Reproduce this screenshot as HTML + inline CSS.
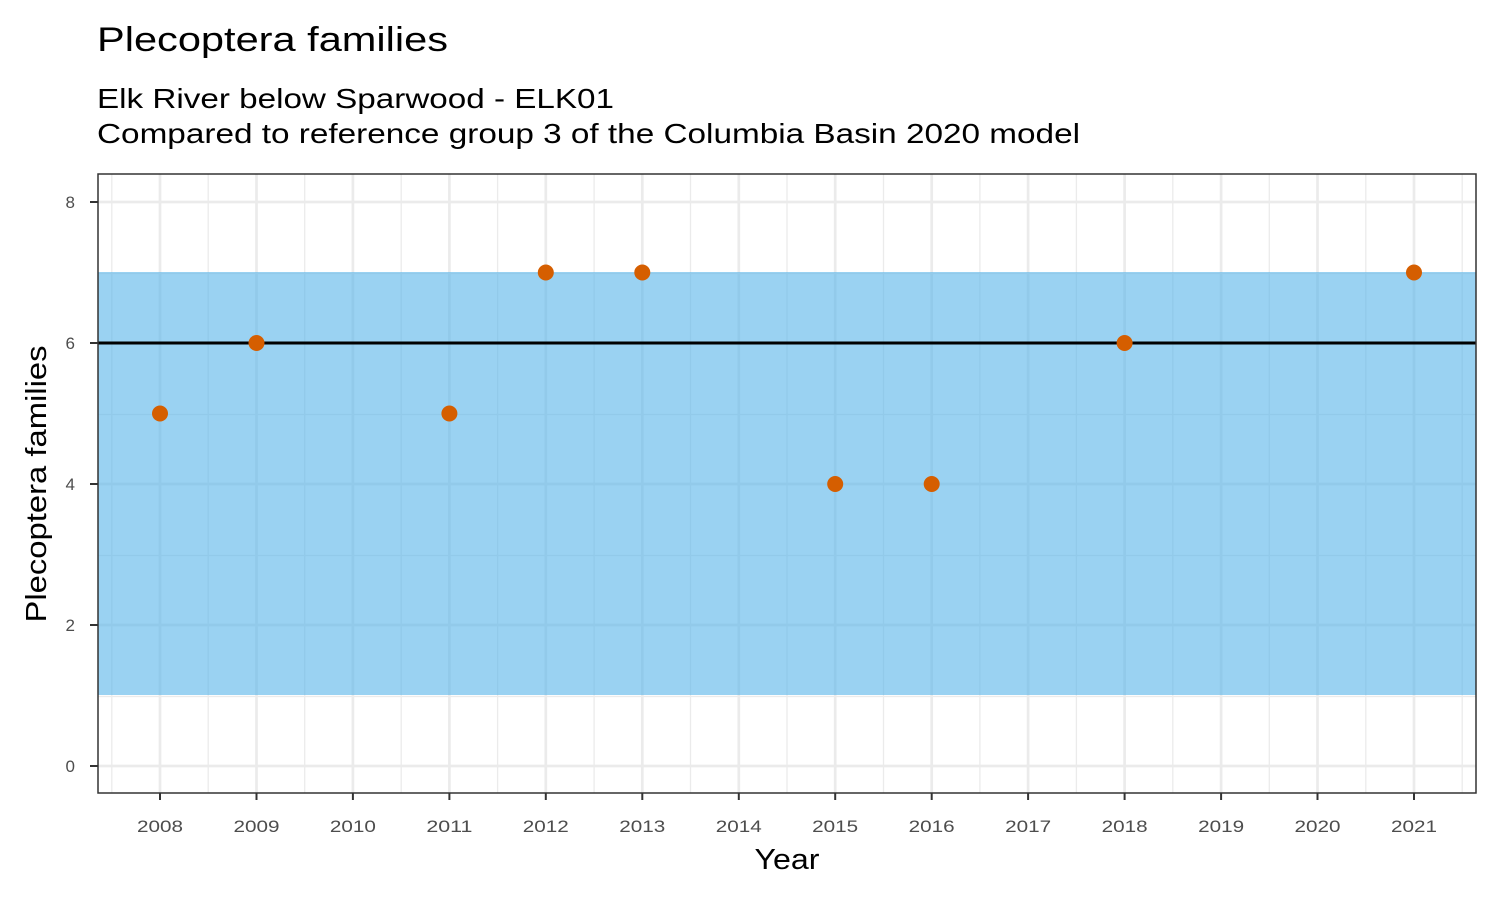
<!DOCTYPE html>
<html><head><style>body{margin:0;background:#fff}</style></head><body>
<svg width="1500" height="900" xmlns="http://www.w3.org/2000/svg" font-family="Liberation Sans, Arial, sans-serif">
<rect width="1500" height="900" fill="#fff"/>
<text x="97" y="51" font-size="34" fill="#000" textLength="351" lengthAdjust="spacingAndGlyphs">Plecoptera families</text>
<text x="97" y="108" font-size="28" fill="#000" textLength="517" lengthAdjust="spacingAndGlyphs">Elk River below Sparwood - ELK01</text>
<text x="97" y="143" font-size="28" fill="#000" textLength="983" lengthAdjust="spacingAndGlyphs">Compared to reference group 3 of the Columbia Basin 2020 model</text>
<g stroke="#ebebeb">
<g stroke-width="1.3">
<line x1="98" x2="1476" y1="696.5" y2="696.5"/><line x1="98" x2="1476" y1="555.5" y2="555.5"/>
<line x1="98" x2="1476" y1="414.5" y2="414.5"/><line x1="98" x2="1476" y1="273.5" y2="273.5"/>
<line x1="111.8" x2="111.8" y1="174" y2="793"/><line x1="208.2" x2="208.2" y1="174" y2="793"/><line x1="304.7" x2="304.7" y1="174" y2="793"/><line x1="401.2" x2="401.2" y1="174" y2="793"/><line x1="497.6" x2="497.6" y1="174" y2="793"/><line x1="594.1" x2="594.1" y1="174" y2="793"/><line x1="690.5" x2="690.5" y1="174" y2="793"/><line x1="787" x2="787" y1="174" y2="793"/><line x1="883.5" x2="883.5" y1="174" y2="793"/><line x1="979.9" x2="979.9" y1="174" y2="793"/><line x1="1076.4" x2="1076.4" y1="174" y2="793"/><line x1="1172.8" x2="1172.8" y1="174" y2="793"/><line x1="1269.3" x2="1269.3" y1="174" y2="793"/><line x1="1365.8" x2="1365.8" y1="174" y2="793"/><line x1="1462.2" x2="1462.2" y1="174" y2="793"/>
</g>
<g stroke-width="2.7">
<line x1="98" x2="1476" y1="766" y2="766"/><line x1="98" x2="1476" y1="625" y2="625"/><line x1="98" x2="1476" y1="484" y2="484"/><line x1="98" x2="1476" y1="343" y2="343"/><line x1="98" x2="1476" y1="202" y2="202"/>
<line x1="160" x2="160" y1="174" y2="793"/><line x1="256.5" x2="256.5" y1="174" y2="793"/><line x1="352.9" x2="352.9" y1="174" y2="793"/><line x1="449.4" x2="449.4" y1="174" y2="793"/><line x1="545.8" x2="545.8" y1="174" y2="793"/><line x1="642.3" x2="642.3" y1="174" y2="793"/><line x1="738.8" x2="738.8" y1="174" y2="793"/><line x1="835.2" x2="835.2" y1="174" y2="793"/><line x1="931.7" x2="931.7" y1="174" y2="793"/><line x1="1028.1" x2="1028.1" y1="174" y2="793"/><line x1="1124.6" x2="1124.6" y1="174" y2="793"/><line x1="1221.1" x2="1221.1" y1="174" y2="793"/><line x1="1317.5" x2="1317.5" y1="174" y2="793"/><line x1="1414" x2="1414" y1="174" y2="793"/>
</g></g>
<rect x="98" y="272" width="1378" height="423" fill="#56B4E9" fill-opacity="0.6"/>
<line x1="98" x2="1476" y1="343" y2="343" stroke="#000" stroke-width="3"/>
<g fill="#D55E00">
<circle cx="160" cy="413.5" r="8"/><circle cx="256.5" cy="343" r="8"/><circle cx="449.4" cy="413.5" r="8"/><circle cx="545.8" cy="272.5" r="8"/><circle cx="642.3" cy="272.5" r="8"/><circle cx="835.2" cy="484" r="8"/><circle cx="931.7" cy="484" r="8"/><circle cx="1124.6" cy="343" r="8"/><circle cx="1414" cy="272.5" r="8"/>
</g>
<rect x="98" y="174" width="1378" height="619" fill="none" stroke="#333" stroke-width="1.5"/>
<g stroke="#333" stroke-width="2">
<line x1="90" x2="98" y1="766" y2="766"/><line x1="90" x2="98" y1="625" y2="625"/><line x1="90" x2="98" y1="484" y2="484"/><line x1="90" x2="98" y1="343" y2="343"/><line x1="90" x2="98" y1="202" y2="202"/>
<line x1="160" x2="160" y1="793" y2="800"/><line x1="256.5" x2="256.5" y1="793" y2="800"/><line x1="352.9" x2="352.9" y1="793" y2="800"/><line x1="449.4" x2="449.4" y1="793" y2="800"/><line x1="545.8" x2="545.8" y1="793" y2="800"/><line x1="642.3" x2="642.3" y1="793" y2="800"/><line x1="738.8" x2="738.8" y1="793" y2="800"/><line x1="835.2" x2="835.2" y1="793" y2="800"/><line x1="931.7" x2="931.7" y1="793" y2="800"/><line x1="1028.1" x2="1028.1" y1="793" y2="800"/><line x1="1124.6" x2="1124.6" y1="793" y2="800"/><line x1="1221.1" x2="1221.1" y1="793" y2="800"/><line x1="1317.5" x2="1317.5" y1="793" y2="800"/><line x1="1414" x2="1414" y1="793" y2="800"/>
</g>
<g font-size="17" fill="#4d4d4d" text-anchor="end">
<text x="75" y="772">0</text><text x="75" y="631">2</text><text x="75" y="490">4</text><text x="75" y="349">6</text><text x="75" y="208">8</text>
</g>
<g font-size="17" fill="#4d4d4d" text-anchor="middle">
<text x="160" y="832" textLength="46" lengthAdjust="spacingAndGlyphs">2008</text><text x="256.5" y="832" textLength="46" lengthAdjust="spacingAndGlyphs">2009</text><text x="352.9" y="832" textLength="46" lengthAdjust="spacingAndGlyphs">2010</text><text x="449.4" y="832" textLength="46" lengthAdjust="spacingAndGlyphs">2011</text><text x="545.8" y="832" textLength="46" lengthAdjust="spacingAndGlyphs">2012</text><text x="642.3" y="832" textLength="46" lengthAdjust="spacingAndGlyphs">2013</text><text x="738.8" y="832" textLength="46" lengthAdjust="spacingAndGlyphs">2014</text><text x="835.2" y="832" textLength="46" lengthAdjust="spacingAndGlyphs">2015</text><text x="931.7" y="832" textLength="46" lengthAdjust="spacingAndGlyphs">2016</text><text x="1028.1" y="832" textLength="46" lengthAdjust="spacingAndGlyphs">2017</text><text x="1124.6" y="832" textLength="46" lengthAdjust="spacingAndGlyphs">2018</text><text x="1221.1" y="832" textLength="46" lengthAdjust="spacingAndGlyphs">2019</text><text x="1317.5" y="832" textLength="46" lengthAdjust="spacingAndGlyphs">2020</text><text x="1414" y="832" textLength="46" lengthAdjust="spacingAndGlyphs">2021</text>
</g>
<text x="787" y="869" font-size="29" text-anchor="middle" fill="#000" textLength="65" lengthAdjust="spacingAndGlyphs">Year</text>
<text transform="translate(46,484) rotate(-90)" font-size="29" text-anchor="middle" fill="#000" textLength="277" lengthAdjust="spacingAndGlyphs">Plecoptera families</text>
</svg>
</body></html>
